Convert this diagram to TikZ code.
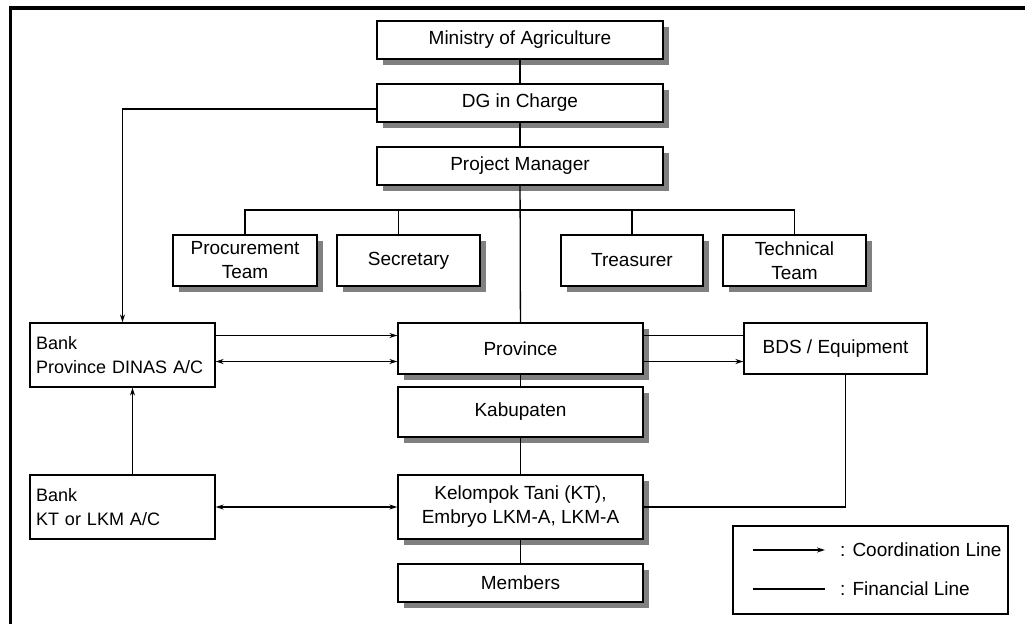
\documentclass[tikz,border=0pt]{standalone}
\usepackage{fontspec}
\setmainfont{Liberation Sans}
\usepackage{tikz}
\usetikzlibrary{arrows.meta,shadows}

\begin{document}
\begin{tikzpicture}[x=1pt, y=-1pt, font=\fontsize{19}{24}\selectfont,
  plain/.style={draw, line width=1.3pt, fill=white, align=center, inner sep=0pt},
  box/.style={plain, drop shadow={shadow xshift=6pt, shadow yshift=-6pt, fill=gray, opacity=1}},
  bank/.style={plain, align=left, font=\fontsize{18}{24}\selectfont, text width=173pt,
               inner xsep=6pt, minimum width=185pt, minimum height=64pt},
  line/.style={line width=1.3pt},
  arr/.style={line, -{Stealth[length=8pt, width=5pt]}},
  darr/.style={line, {Stealth[length=8pt, width=5pt]}-{Stealth[length=8pt, width=5pt]}}]

\useasboundingbox (0,0) rectangle (1025,624);
\draw[line width=3.5pt] (10.5,624) |- (1025,8);

% 中列:部委到成员
\node[box, minimum width=286pt, minimum height=38pt] (mini) at (520,40) {Ministry of Agriculture};
\node[box, minimum width=286pt, minimum height=38pt] (dg)   at (520,103) {DG in Charge};
\node[box, minimum width=286pt, minimum height=38pt] (pm)   at (520,166) {Project Manager};
\node[box, minimum width=245pt, minimum height=51pt] (prov) at (520.5,348.5) {Province};
\node[box, minimum width=245pt, minimum height=50pt] (kab)  at (520.5,412) {Kabupaten};
\node[box, minimum width=245pt, minimum height=64pt] (kel)  at (520.5,507)
  {Kelompok Tani (KT),\\Embryo LKM-A, LKM-A};
\node[box, minimum width=245pt, minimum height=38pt] (mem)  at (520.5,583) {Members};

% 项目经理下的四个小组
\node[box, minimum width=144pt, minimum height=51pt] (proc)  at (245,260.5) {Procurement\\Team};
\node[box, minimum width=143pt, minimum height=51pt] (secr)  at (408.5,260.5) {Secretary};
\node[box, minimum width=142pt, minimum height=51pt] (treas) at (632,260.5) {Treasurer};
\node[box, minimum width=143pt, minimum height=51pt] (tech)  at (794.5,260.5) {Technical\\Team};
\coordinate (br) at (520,210);

% 银行与 BDS
\node[bank] (bankp) at (122.5,355) {Bank\\Province DINAS A/C};
\node[bank] (bankk) at (122.5,507) {Bank\\KT or LKM A/C};
\node[plain, minimum width=183pt, minimum height=51pt] (bds) at (835.5,348.5) {BDS / Equipment};

\draw[line] (mini) -- (dg);
\draw[line] (dg) -- (pm);
\draw[line] (pm) -- (prov);
\draw[line] (prov) -- (kab);
\draw[line] (kab) -- (kel);
\draw[line] (kel) -- (mem);
\draw[line] (proc.north) |- (br) -| (tech.north);
\draw[line] ([xshift=-10pt]secr.north) -- ([xshift=-10pt]secr.north |- br);
\draw[line] (treas.north) -- (treas.north |- br);

\draw[arr] ([yshift=-6pt]dg.west) -| (bankp.north);
\draw[arr] ([yshift=13pt]prov.west -| bankp.east) -- ([yshift=13pt]prov.west);
\draw[darr] ([yshift=-13pt]prov.west -| bankp.east) -- ([yshift=-13pt]prov.west);
\draw[line] ([yshift=13pt]prov.east) -- ([yshift=13pt]bds.west);
\draw[arr] ([yshift=-13pt]prov.east) -- ([yshift=-13pt]bds.west);
\draw[arr] ([xshift=10pt]bankk.north) -- ([xshift=10pt]bankp.south);
\draw[darr] (bankk) -- (kel);
\draw[line] ([xshift=10pt]bds.south) |- (kel.east);

% 图例
\node[plain, minimum width=275pt, minimum height=88pt] (leg) at (870.5,570) {};
\node[anchor=west, inner sep=0pt] (lc) at (840,550) {: Coordination Line};
\node[anchor=west, inner sep=0pt] (lf) at (840,589) {: Financial Line};
\coordinate (lc0) at (753,550);
\coordinate (lf0) at (753,589);
\draw[arr] (lc0) -- ([xshift=-15pt]lc.west);
\draw[line] (lf0) -- ([xshift=-15pt]lf.west);
\end{tikzpicture}
\end{document}
